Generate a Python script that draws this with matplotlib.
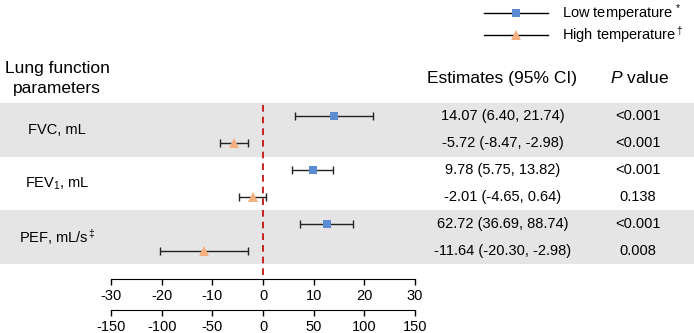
import numpy as np
import matplotlib.pyplot as plt

plt.rcParams['font.family'] = ['Liberation Sans', 'DejaVu Sans']
plt.rcParams['mathtext.fontset'] = 'custom'
plt.rcParams['mathtext.rm'] = 'Liberation Sans'
plt.rcParams['mathtext.it'] = 'Liberation Sans:italic'
plt.rcParams['axes.unicode_minus'] = False
plt.rcParams['font.size'] = 10.5

# data
params = ['FVC, mL', 'FEV$_1$, mL', 'PEF, mL/s$^{\\,‡}$']
low_est = [14.07, 9.78, 62.72]
low_lo = [6.40, 5.75, 36.69]
low_hi = [21.74, 13.82, 88.74]
high_est = [-5.72, -2.01, -11.64]
high_lo = [-8.47, -4.65, -20.30]
high_hi = [-2.98, 0.64, -2.98]
p_low = ['<0.001', '<0.001', '<0.001']
p_high = ['<0.001', '0.138', '0.008']
# PEF low is read on the lower (x5) axis, the rest on the upper one
low_scale = [1, 1, 5]
high_scale = [1, 1, 1]

W, H = 694, 333
top, bot = 103, 264
left, right = 111, 415
row_h = (bot - top) / 6

fig = plt.figure(figsize=(W / 100, H / 100), dpi=100)
bg = fig.add_axes([0, 0, 1, 1], zorder=0)
bg.set_xlim(0, W)
bg.set_ylim(H, 0)
bg.axis('off')

ax = fig.add_axes([left / W, 1 - bot / H, (right - left) / W, (bot - top) / H], zorder=1)
ax.set_facecolor('none')
ax.set_xlim(-30, 30)
ax.set_ylim(6, 0)

n = len(params)
y_low = np.arange(n) * 2 + 0.5
y_high = np.arange(n) * 2 + 1.5

# shaded bands + text
for i in range(n):
    y0 = top + 2 * i * row_h
    if i % 2 == 0:
        bg.axhspan(y0, y0 + 2 * row_h, color='#e5e5e5', lw=0, zorder=0)
    bg.text(57, y0 + row_h, params[i], ha='center', va='center')
    for j, (est, lo, hi, p) in enumerate([(low_est[i], low_lo[i], low_hi[i], p_low[i]),
                                            (high_est[i], high_lo[i], high_hi[i], p_high[i])]):
        yy = y0 + (j + 0.5) * row_h
        bg.text(503, yy, f'{est:.2f} ({lo:.2f}, {hi:.2f})', ha='center', va='center')
        bg.text(638, yy, p, ha='center', va='center')

bg.text(57, 68, 'Lung function', ha='center', va='center', fontsize=12.5)
bg.text(57, 88, 'parameters', ha='center', va='center', fontsize=12.5)
bg.text(502, 78, 'Estimates (95% CI)', ha='center', va='center', fontsize=12.5)
bg.text(640, 78, '$\\it{P}$ value', ha='center', va='center', fontsize=12.5)

# forest marks
blue = '#5b8bd0'
orange = '#f5b07f'
le = np.array(low_est) / low_scale
ll = np.array(low_lo) / low_scale
lh = np.array(low_hi) / low_scale
he = np.array(high_est) / high_scale
hl = np.array(high_lo) / high_scale
hh = np.array(high_hi) / high_scale
ax.errorbar(le, y_low, xerr=[le - ll, lh - le], fmt='none', ecolor='#222222',
            elinewidth=1, capsize=3, capthick=1, zorder=2)
ax.errorbar(he, y_high, xerr=[he - hl, hh - he], fmt='none', ecolor='#222222',
            elinewidth=1, capsize=3, capthick=1, zorder=2)
ax.plot(le, y_low, 's', color=blue, ms=5.8, mew=0, zorder=3)
ax.plot(he, y_high, '^', color=orange, ms=6.5, mew=0, zorder=3)

ax.axvline(0, ymin=-11 / (bot - top), ymax=1, color='#c00000', ls='--', lw=1.2,
           dashes=(4, 3), clip_on=False, zorder=1)

# axes
for s in ['left', 'top', 'right']:
    ax.spines[s].set_visible(False)
ax.spines['bottom'].set_position(('outward', 11))
ax.set_yticks([])
ax.set_xticks(np.arange(-30, 31, 10))
ax.tick_params(axis='x', direction='out', length=4, width=1, pad=3)

sec = ax.secondary_xaxis(-46 / (bot - top), functions=(lambda x: x * 5, lambda x: x / 5))
sec.set_xticks(np.arange(-150, 151, 50))
sec.tick_params(axis='x', direction='out', length=4, width=1, pad=3)

# legend
for yy, mk, c, lab in [(13, 's', blue, 'Low temperature$^{\\,*}$'),
                       (35, '^', orange, 'High temperature$^{\\,†}$')]:
    bg.plot([484, 548], [yy, yy], color='black', lw=1, zorder=2)
    bg.plot([516], [yy], mk, color=c, ms=6.5 if mk == '^' else 5.8, mew=0, zorder=3)
    bg.text(562, yy, lab, ha='left', va='center')

fig.savefig('out.png', dpi=100)
